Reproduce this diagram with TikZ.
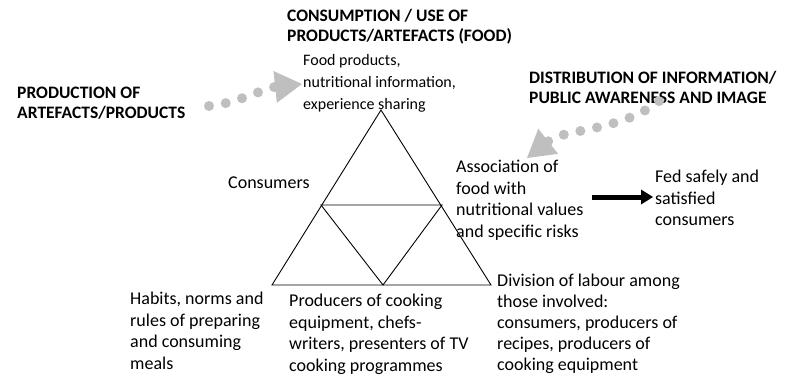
\documentclass[tikz,border=0pt]{standalone}
\usepackage{fontspec}
\setmainfont{Carlito}
\usetikzlibrary{arrows.meta, positioning}
\definecolor{flowgray}{RGB}{191,191,191}

\begin{document}
\begin{tikzpicture}[
    x=1pt, y=-1pt,
    heading/.style={anchor=north west, inner sep=0pt, align=left, font=\fontsize{17.5}{20}\selectfont\bfseries},
    note/.style={anchor=north west, inner sep=0pt, align=left, font=\fontsize{18}{21.5}\selectfont},
    flow/.style={flowgray, line width=10pt, line cap=round, dash pattern=on 0pt off 17pt},
    flowtip/.style={-{Triangle[length=27pt, width=32pt, line width=0pt]}},
    goal/.style={line width=5pt, -{Triangle[length=12pt, width=15pt, line width=0pt]}},
    frame/.style={line width=0.9pt, line join=miter}
]
\useasboundingbox (0,0) rectangle (786,377);

% --- Headings ---
\node[heading] (prod) at (17,87) {PRODUCTION OF\\ARTEFACTS/PRODUCTS};
\node[heading] (cons) at (287,9) {CONSUMPTION / USE OF\\PRODUCTS/ARTEFACTS (FOOD)};
\node[heading] (dist) at (529,71) {DISTRIBUTION OF INFORMATION/\\PUBLIC AWARENESS AND IMAGE};

% --- Corner texts ---
\node[note, font=\fontsize{16}{22}\selectfont] (food) at (303,54)
    {Food products,\\nutritional information,\\experience sharing};
\node[note] (consumers) at (228,177) {Consumers};
\node[note] (assoc) at (456,160)
    {Association of\\food with\\nutritional values\\and specific risks};
\node[note] (fed) at (655,170) {Fed safely and\\satisfied\\consumers};
\node[note] (habits) at (130,292)
    {Habits, norms and\\rules of preparing\\and consuming\\meals};
\node[note] (producers) at (289,294)
    {Producers of cooking\\equipment, chefs-\\writers, presenters of TV\\cooking programmes};
\node[note, font=\fontsize{18}{21}\selectfont] (division) at (497,274)
    {Division of labour among\\those involved:\\consumers, producers of\\recipes, producers of\\cooking equipment};

% --- Triangle ---
\coordinate (top) at (381,110);
\coordinate (left) at (272,285);
\coordinate (right) at (491,285);
\coordinate (midL) at (321,205);
\coordinate (midR) at (442,205);
\coordinate (midB) at (383,285);
\draw[frame] (top) -- (left) -- (right) -- cycle;
\draw[frame] (midL) -- (midR) -- (midB) -- cycle;

% --- Dotted arrows ---
\coordinate (prodflow) at (209,106);
\coordinate (foodflow) at (302,84);
\draw[flow, flowtip] (prodflow) .. controls (235,104) and (265,88) .. (foodflow);
\coordinate (assocflow) at (527,158);
\coordinate (distflow) at (664,97);
\draw[flow, flowtip, {Triangle[length=27pt, width=32pt, line width=0pt]}-]
    (assocflow) .. controls (565,128) and (625,132) .. (distflow);

% --- Result arrow ---
\coordinate (goalstart) at (592,197);
\draw[goal] (goalstart) -- ([xshift=-2pt]fed.west |- goalstart);
\end{tikzpicture}
\end{document}
